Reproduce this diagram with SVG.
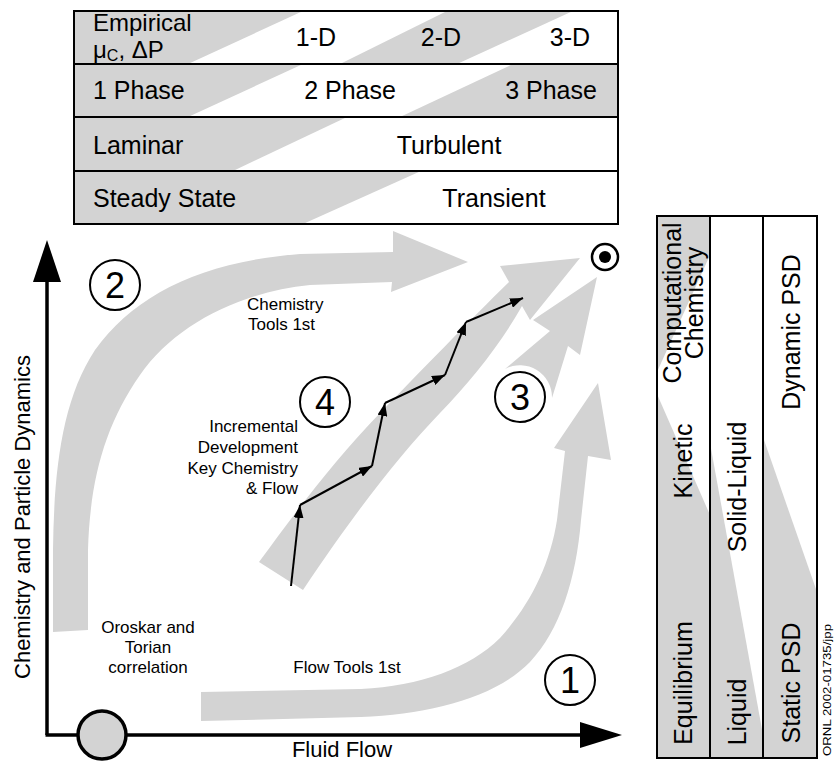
<svg xmlns="http://www.w3.org/2000/svg" width="834" height="763" viewBox="0 0 834 763">
<defs>
<style>
.g{fill:#d3d3d3;stroke:none}
.box{fill:none;stroke:#000;stroke-width:2}
.ln{stroke:#000;stroke-width:2}
.t{font-family:"Liberation Sans",Arial,Helvetica,sans-serif;fill:#000}
.big{font-size:25px}
.sm{font-size:17px}
.num{font-size:36px}
.ax{font-size:22px}
.cir{fill:#fff;stroke:#000;stroke-width:2}
.zz{stroke:#000;stroke-width:2;fill:none;marker-end:url(#ah)}
</style>
<marker id="ah" markerUnits="userSpaceOnUse" markerWidth="14" markerHeight="10" refX="13" refY="5" orient="auto">
<path d="M0,0 L13,5 L0,10 z" fill="#000"/>
</marker>
</defs>
<rect width="834" height="763" fill="#fff"/>

<g id="top-table">
<path class="g" d="M74,11 L303,11 L188,64 L74,64 Z"/>
<path class="g" d="M447,11 L573,11 L457,64 L340,64 Z"/>
<path class="g" d="M74,64 L303,64 L188,117 L74,117 Z"/>
<path class="g" d="M513,64 L618,64 L618,117 L400,117 Z"/>
<path class="g" d="M74,117 L347,117 L233,171 L74,171 Z"/>
<path class="g" d="M74,171 L421,171 L303,224 L74,224 Z"/>
<rect class="box" x="74" y="11" width="544" height="213"/>
<line class="ln" x1="74" y1="64" x2="618" y2="64"/>
<line class="ln" x1="74" y1="117" x2="618" y2="117"/>
<line class="ln" x1="74" y1="171" x2="618" y2="171"/>
<text class="t" font-size="24" x="93" y="31">Empirical</text>
<text class="t" font-size="24" x="93" y="58">μ<tspan font-size="16" dy="3">C</tspan><tspan dy="-3">, ΔP</tspan></text>
<text class="t big" x="316" y="46" text-anchor="middle">1-D</text>
<text class="t big" x="441" y="46" text-anchor="middle">2-D</text>
<text class="t big" x="570" y="46" text-anchor="middle">3-D</text>
<text class="t big" x="93" y="99">1 Phase</text>
<text class="t big" x="350" y="99" text-anchor="middle">2 Phase</text>
<text class="t big" x="551" y="99" text-anchor="middle">3 Phase</text>
<text class="t big" x="93" y="154">Laminar</text>
<text class="t big" x="449" y="154" text-anchor="middle">Turbulent</text>
<text class="t big" x="93" y="207">Steady State</text>
<text class="t big" x="494" y="207" text-anchor="middle">Transient</text>
</g>

<g id="right-table">
<path class="g" d="M657,216 L710,216 L710,255 L657,372 Z"/>
<path class="g" d="M657,394 L710,515 L710,758 L657,758 Z"/>
<path class="g" d="M710,443 L763,735 L763,758 L710,758 Z"/>
<path class="g" d="M763,437 L817,592 L817,758 L763,758 Z"/>
<rect class="box" x="657" y="216" width="160" height="542"/>
<line class="ln" x1="710" y1="216" x2="710" y2="758"/>
<line class="ln" x1="763" y1="216" x2="763" y2="758"/>
<text class="t big" transform="translate(681,303) rotate(-90)" text-anchor="middle">Computational</text>
<text class="t big" transform="translate(703,303) rotate(-90)" text-anchor="middle">Chemistry</text>
<text class="t big" transform="translate(692,461) rotate(-90)" text-anchor="middle">Kinetic</text>
<text class="t big" transform="translate(692,683) rotate(-90)" text-anchor="middle">Equilibrium</text>
<text class="t big" transform="translate(746,487) rotate(-90)" text-anchor="middle">Solid-Liquid</text>
<text class="t big" transform="translate(746,712) rotate(-90)" text-anchor="middle">Liquid</text>
<text class="t big" transform="translate(800,332) rotate(-90)" text-anchor="middle">Dynamic PSD</text>
<text class="t big" transform="translate(800,683) rotate(-90)" text-anchor="middle">Static PSD</text>
</g>

<text id="credit" class="t" font-size="11" transform="translate(831,690) rotate(-90)" text-anchor="middle" textLength="132" lengthAdjust="spacingAndGlyphs">ORNL 2002-01735/jpp</text>

<g id="connectors">
<path id="band-2" class="g" d="M53,632 L53,550 C54,470 62,400 95,350 C135,295 200,262 300,254 L393,252 L393,231 L468,262 L391,292 L392,282 L310,285 C240,292 175,325 140,375 C105,425 90,480 88,550 L88,630 Z"/>
<path id="band-1" class="g" d="M201,692 L361,689 C420,686 470,668 500,638 C530,605 550,565 557,520 L565,451 L554,448 L598,383 L611,460 L588,456 L581,520 C576,580 560,630 530,662 C495,698 430,714 361,717 L201,721 Z"/>
<path id="band-4" class="g" d="M259,562 C290,520 330,465 380,413 C420,372 470,320 509,282 L500,266 L580,258 L530,320 L522,306 C500,345 470,382 440,413 C400,455 360,505 303,590 Z"/>
<path id="band-3" class="g" d="M505,369 L550,331 L533,320 L597,277 L580,355 L568,346 L552,398 A32,32 0 0 0 505,369 Z"/>
<g id="steps">
<line class="zz" x1="291" y1="586" x2="300" y2="505"/>
<line class="zz" x1="300" y1="505" x2="372" y2="466"/>
<line class="zz" x1="372" y1="466" x2="385" y2="403"/>
<line class="zz" x1="385" y1="403" x2="445" y2="375"/>
<line class="zz" x1="445" y1="375" x2="466" y2="322"/>
<line class="zz" x1="466" y1="322" x2="523" y2="298"/>
</g>
</g>

<g id="axes">
<line x1="47" y1="735" x2="47" y2="275" stroke="#000" stroke-width="3.5"/>
<path d="M47,240 L61,282 L33,282 Z" fill="#000"/>
<line x1="45.5" y1="735" x2="585" y2="735" stroke="#000" stroke-width="3.5"/>
<path d="M622,735 L580,748 L580,722 Z" fill="#000"/>
<text class="t ax" x="342" y="757" text-anchor="middle">Fluid Flow</text>
<text class="t ax" transform="translate(30,517) rotate(-90)" text-anchor="middle">Chemistry and Particle Dynamics</text>
</g>

<g id="origin">
<circle cx="102" cy="735" r="24" fill="#d3d3d3" stroke="#000" stroke-width="3.5"/>
</g>

<g id="oroskar">
<text class="t sm" text-anchor="middle"><tspan x="148" y="633">Oroskar and</tspan><tspan x="148" y="653">Torian</tspan><tspan x="148" y="673">correlation</tspan></text>
</g>
<g id="flow-tools">
<text class="t sm" x="347" y="673" text-anchor="middle">Flow Tools 1st</text>
</g>
<g id="chem-tools">
<text class="t sm"><tspan x="247" y="310">Chemistry</tspan><tspan x="248" y="330">Tools 1st</tspan></text>
</g>
<g id="incremental">
<text class="t sm" text-anchor="end"><tspan x="298" y="432">Incremental</tspan><tspan x="298" y="453">Development</tspan><tspan x="298" y="474">Key Chemistry</tspan><tspan x="298" y="494">&amp; Flow</tspan></text>
</g>

<g id="n1"><circle class="cir" cx="570" cy="680" r="25"/><text class="t num" x="570" y="693" text-anchor="middle">1</text></g>
<g id="n2"><circle class="cir" cx="115" cy="285" r="25"/><text class="t num" x="115" y="298" text-anchor="middle">2</text></g>
<g id="n3"><circle class="cir" cx="520" cy="397" r="25"/><text class="t num" x="520" y="410" text-anchor="middle">3</text></g>
<g id="n4"><circle class="cir" cx="325" cy="402" r="25"/><text class="t num" x="325" y="415" text-anchor="middle">4</text></g>
<g id="target"><circle cx="605" cy="257" r="13" fill="#fff" stroke="#000" stroke-width="2.5"/><circle cx="605" cy="257" r="6" fill="#000"/></g>
</svg>
